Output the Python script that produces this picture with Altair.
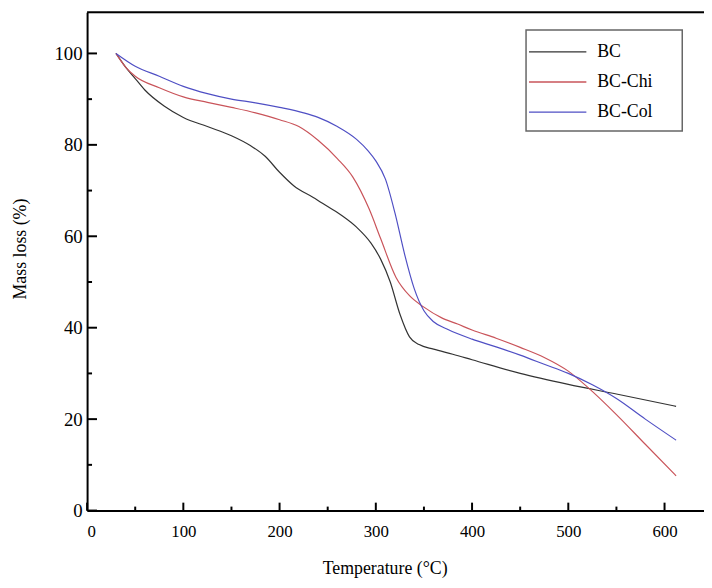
import altair as alt
import pandas as pd

# ---- data ----
bc_t = [30, 40, 50, 60, 80, 100, 125, 150, 170, 185, 200, 215, 235, 250, 265, 280, 295, 305, 315, 325, 335, 345, 360, 380, 400, 450, 500, 550, 612]
bc_m = [100, 97, 94.5, 92, 88.5, 86, 84, 82, 79.8, 77.5, 74, 71, 68.5, 66.5, 64.5, 62, 58.5, 55, 50, 43, 38, 36.3, 35.3, 34.2, 33, 30, 27.6, 25.5, 22.8]

chi_t = [30, 40, 50, 75, 100, 125, 150, 175, 200, 220, 240, 260, 276, 293, 305, 321, 335, 350, 368, 385, 400, 425, 450, 475, 500, 520, 550, 580, 612]
chi_m = [100, 97, 95, 92.5, 90.5, 89.3, 88.2, 87, 85.5, 84, 81, 77, 73, 66, 59.5, 51, 47, 44.5, 42.2, 40.8, 39.5, 37.7, 35.7, 33.5, 30.5, 27, 21, 14.5, 7.6]

col_t = [30, 50, 75, 100, 125, 150, 175, 200, 225, 240, 260, 280, 292, 300, 310, 320, 330, 340, 350, 360, 375, 400, 425, 450, 475, 500, 525, 550, 580, 612]
col_m = [100, 97.2, 95, 92.8, 91.2, 90, 89.2, 88.2, 87, 86, 84, 81.2, 78.7, 76.5, 72.5, 65, 56, 48.5, 43.7, 41.3, 39.6, 37.5, 35.8, 34, 32, 30, 27.5, 24.5, 20, 15.4]

series_names = ["BC", "BC-Chi", "BC-Col"]
series_colors = ["#333333", "#c9545a", "#4f4fc4"]

x_major = [0, 100, 200, 300, 400, 500, 600]
x_minor = [50, 150, 250, 350, 450, 550]
y_major = [0, 20, 40, 60, 80, 100]
y_minor = [10, 30, 50, 70, 90]

FONT = "Liberation Serif"
X_DOMAIN = [0, 641]
Y_DOMAIN = [0, 109.0]
W, H = 624, 504

rows = []
for name, ts, ms in zip(series_names, [bc_t, chi_t, col_t], [bc_m, chi_m, col_m]):
    for t, m in zip(ts, ms):
        rows.append({"series": name, "T": t, "M": m})
df = pd.DataFrame(rows)

xs = alt.Scale(domain=X_DOMAIN, nice=False, zero=False)
ys = alt.Scale(domain=Y_DOMAIN, nice=False)

lines = alt.Chart(df).mark_line(strokeWidth=1.2, interpolate="monotone", clip=True).encode(
    x=alt.X("T:Q", scale=xs, title="Temperature (°C)",
            axis=alt.Axis(values=x_major, ticks=False, grid=False, domainColor="black",
                          domainWidth=2, labelFont=FONT, labelFontSize=17, labelColor="black",
                          labelPadding=13, titleFont=FONT, titleFontSize=18,
                          titleFontWeight="normal", titleColor="black",
                          titleX=301, titleY=59, titleBaseline="middle")),
    y=alt.Y("M:Q", scale=ys, title="Mass loss (%)",
            axis=alt.Axis(values=y_major, ticks=False, grid=False, domainColor="black",
                          domainWidth=2, labelFont=FONT, labelFontSize=19, labelColor="black",
                          labelPadding=5, titleFont=FONT, titleFontSize=18,
                          titleFontWeight="normal", titleColor="black",
                          titleX=-67, titleY=239, titleBaseline="middle")),
    color=alt.Color("series:N", scale=alt.Scale(domain=series_names, range=series_colors), legend=None),
)

xt_major = alt.Chart(pd.DataFrame({"v": x_major})).mark_rule(color="black", strokeWidth=2).encode(
    x=alt.X("v:Q", scale=xs), y=alt.value(H), y2=alt.value(H - 8))
xt_minor = alt.Chart(pd.DataFrame({"v": x_minor})).mark_rule(color="black", strokeWidth=2).encode(
    x=alt.X("v:Q", scale=xs), y=alt.value(H), y2=alt.value(H - 4))
yt_major = alt.Chart(pd.DataFrame({"v": y_major})).mark_rule(color="black", strokeWidth=2).encode(
    y=alt.Y("v:Q", scale=ys), x=alt.value(0), x2=alt.value(10))
yt_minor = alt.Chart(pd.DataFrame({"v": y_minor})).mark_rule(color="black", strokeWidth=2).encode(
    y=alt.Y("v:Q", scale=ys), x=alt.value(0), x2=alt.value(5))
top_border = alt.Chart(pd.DataFrame({"v": [Y_DOMAIN[1]]})).mark_rule(color="black", strokeWidth=2).encode(
    y=alt.Y("v:Q", scale=ys), x=alt.value(0), x2=alt.value(W))

# legend (manual)
LX, LY = 444, 18
leg_box = alt.Chart(pd.DataFrame({"a": [0]})).mark_rect(fill="white", stroke="#666666", strokeWidth=1.5).encode(
    x=alt.value(LX), x2=alt.value(LX + 158), y=alt.value(LY), y2=alt.value(LY + 102))
leg_layers = [leg_box]
for i, (name, col) in enumerate(zip(series_names, series_colors)):
    yy = LY + 22 + i * 30.5
    d = pd.DataFrame({"series": [name]})
    leg_layers.append(alt.Chart(d).mark_rule(color=col, strokeWidth=1.3).encode(
        x=alt.value(LX + 3), x2=alt.value(LX + 61), y=alt.value(yy)))
    leg_layers.append(alt.Chart(d).mark_text(align="left", baseline="middle", font=FONT,
                                             fontSize=18, color="black").encode(
        x=alt.value(LX + 72), y=alt.value(yy), text="series:N"))

chart = alt.layer(lines, xt_major, xt_minor, yt_major, yt_minor, top_border, *leg_layers).properties(
    width=W, height=H,
    autosize=alt.AutoSizeParams(type="none"),
    padding={"left": 80, "top": 1, "right": 0, "bottom": 75},
).configure_view(stroke=None).configure(background="white")

chart.save("out.html", embed_options={"renderer": "svg", "actions": False})
